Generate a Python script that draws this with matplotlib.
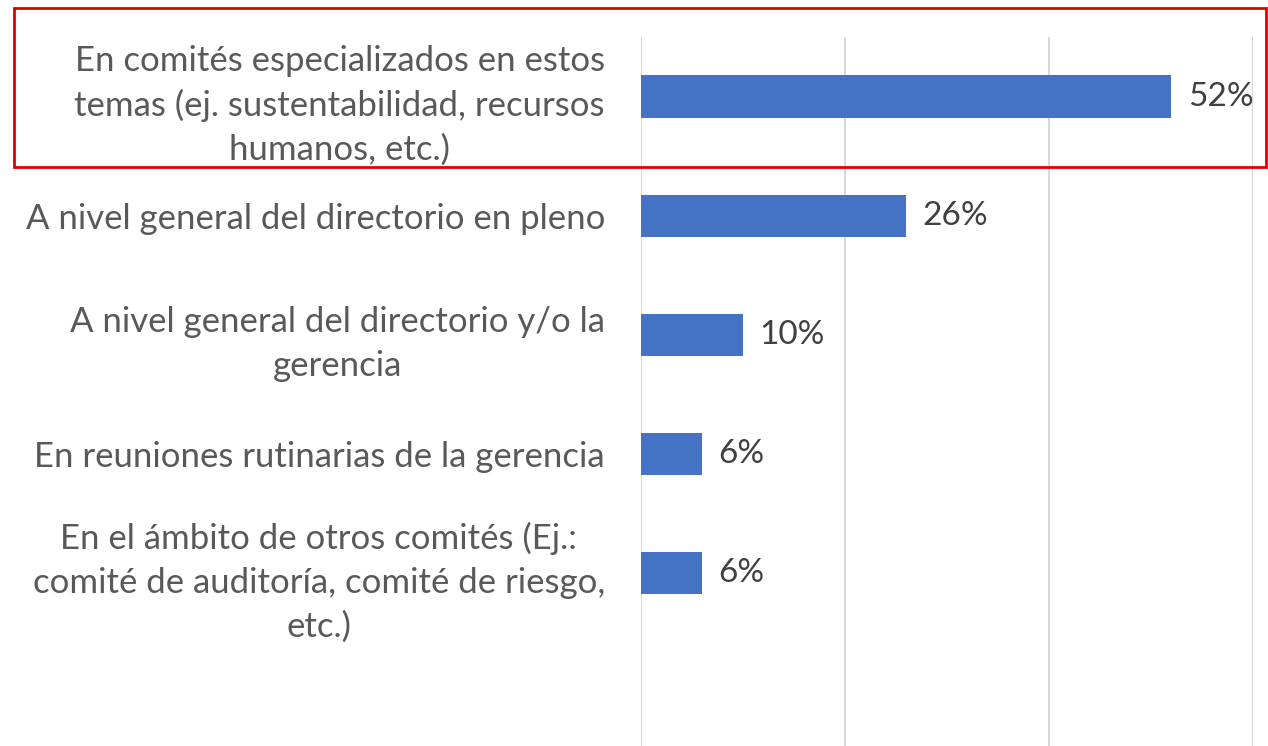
import matplotlib
matplotlib.use('Agg')
import matplotlib.pyplot as plt
from matplotlib.patches import Rectangle

categories = [
    "En comités especializados en estos\ntemas (ej. sustentabilidad, recursos\nhumanos, etc.)",
    "A nivel general del directorio en pleno",
    "A nivel general del directorio y/o la\ngerencia",
    "En reuniones rutinarias de la gerencia",
    "En el ámbito de otros comités (Ej.:\ncomité de auditoría, comité de riesgo,\netc.)",
]
values = [0.52, 0.26, 0.10, 0.06, 0.06]
xticks = [0, 0.2, 0.4, 0.6]

W, H = 1268, 746
fig = plt.figure(figsize=(W / 100, H / 100), dpi=100)
ax = fig.add_axes([641 / W, 0, (1253 - 641) / W, (H - 37) / H])

pos = list(range(len(categories)))
ax.barh(pos, values, height=0.355, color='#4472c4', zorder=3)
ax.set_xlim(0, 0.6)
ax.set_ylim(5.45, -0.5)
ax.set_xticks(xticks)
ax.xaxis.grid(True, color='#d9d9d9', linewidth=1.5, zorder=0)
ax.tick_params(axis='x', length=0, labelbottom=False)
ax.tick_params(axis='y', length=0, pad=26)
ax.set_yticks(pos)
ax.set_yticklabels(categories, fontsize=25, color='#595959', family='Lato',
                   ha='right', multialignment='center', linespacing=1.45)
for s in ax.spines.values():
    s.set_visible(False)

for p, v in zip(pos, values):
    ax.text(v + 0.016, p, f"{round(v * 100)}%", va='center', ha='left',
            fontsize=24, color='#404040', family='Lato')

fig.patches.append(Rectangle((14 / W, 1 - 167 / H), (1266 - 14) / W, (167 - 8) / H,
                             transform=fig.transFigure, fill=False,
                             edgecolor='#e00000', linewidth=2))

fig.savefig('out.png', dpi=100)
